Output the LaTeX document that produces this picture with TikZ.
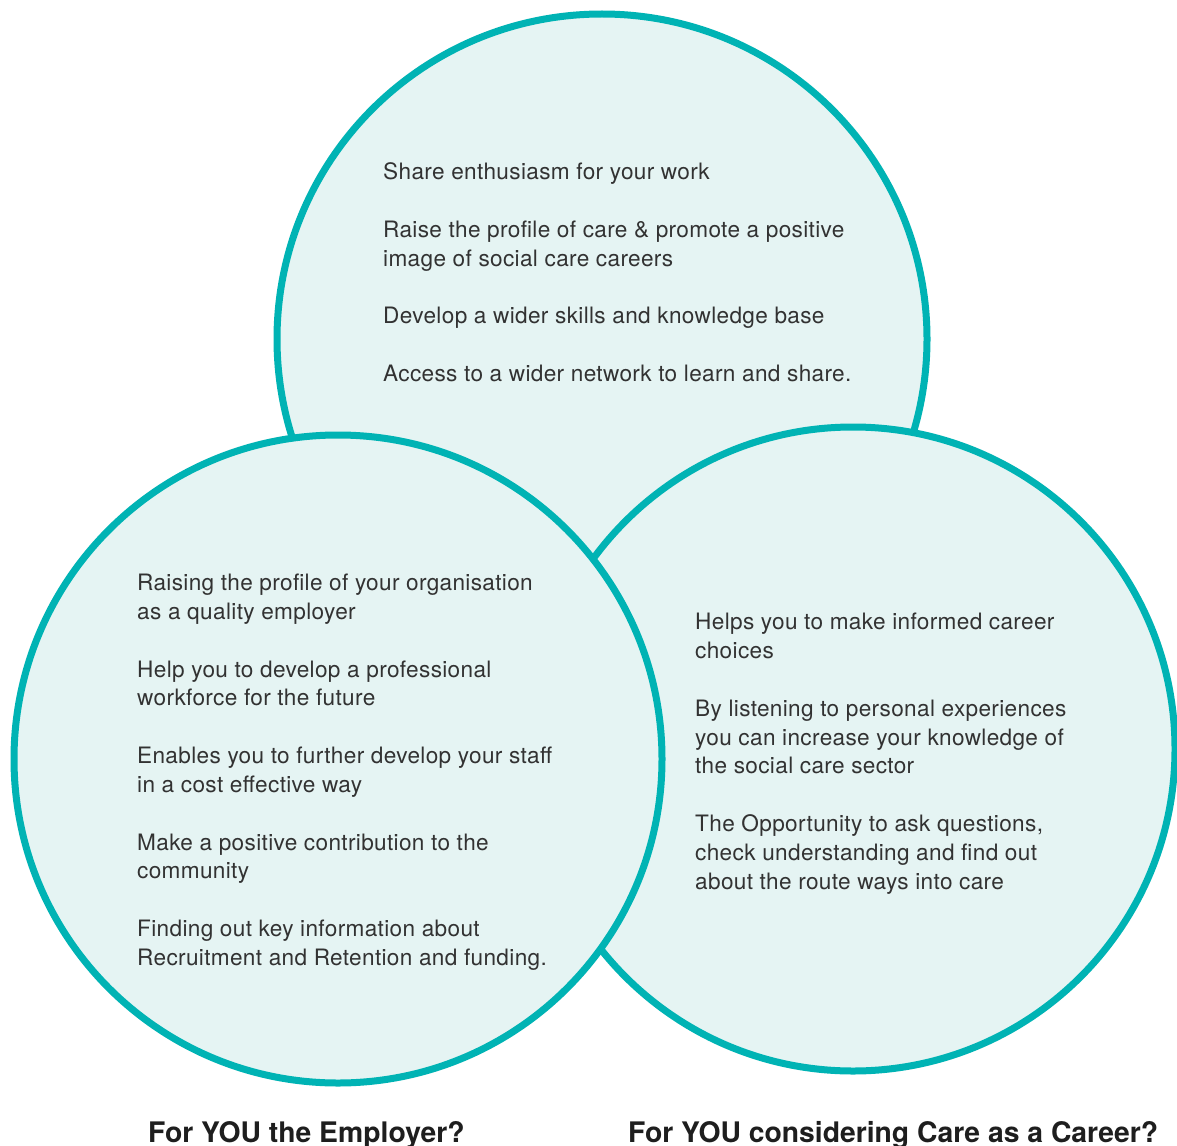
\documentclass[tikz,border=0pt]{standalone}
\usepackage{fontspec}
\setmainfont{TeX Gyre Heros}
\newfontfamily\itemfont[LetterSpace=1.5]{TeX Gyre Heros}
\definecolor{ring}{RGB}{0,179,180}
\definecolor{mint}{RGB}{229,244,243}
\definecolor{ink}{RGB}{50,50,50}
\definecolor{headink}{RGB}{30,30,30}
\begin{document}
\begin{tikzpicture}[x=1pt,y=-1pt,
  bubble/.style={draw=ring,fill=mint,line width=7pt},
  item/.style={anchor=base west,inner sep=0pt,text=ink,font=\itemfont\fontsize{22.6}{29}\selectfont},
  head/.style={anchor=base west,inner sep=0pt,text=headink,font=\fontsize{28.3}{32}\selectfont\bfseries}]
\useasboundingbox (0,0) rectangle (1177,1145);
\fill[white] (0,0) rectangle (1177,1145);
% circles
\draw[bubble] (602,339) circle[radius=325];
\draw[bubble] (853,749) circle[radius=322];
\draw[bubble] (338,759) circle[radius=324];
% top circle text
\node[item] (a1) at (383,179) {Share enthusiasm for your work};
\node[item] (a2) at (383,237) {Raise the profile of care \& promote a positive};
\node[item] (a3) at (383,266) {image of social care careers};
\node[item] (a4) at (383,323) {Develop a wider skills and knowledge base};
\node[item] (a5) at (383,381) {Access to a wider network to learn and share.};
% left circle text
\node[item] (b1) at (137,590) {Raising the profile of your organisation};
\node[item] (b2) at (137,619) {as a quality employer};
\node[item] (b3) at (137,677) {Help you to develop a professional};
\node[item] (b4) at (137,705) {workforce for the future};
\node[item] (b5) at (137,763) {Enables you to further develop your staff};
\node[item] (b6) at (137,792) {in a cost effective way};
\node[item] (b7) at (137,850) {Make a positive contribution to the};
\node[item] (b8) at (137,878) {community};
\node[item] (b9) at (137,936) {Finding out key information about};
\node[item] (b10) at (137,965) {Recruitment and Retention and funding.};
% right circle text
\node[item] (c1) at (695,629) {Helps you to make informed career};
\node[item] (c2) at (695,658) {choices};
\node[item] (c3) at (695,716) {By listening to personal experiences};
\node[item] (c4) at (695,745) {you can increase your knowledge of};
\node[item] (c5) at (695,773) {the social care sector};
\node[item] (c6) at (695,831) {The Opportunity to ask questions,};
\node[item] (c7) at (695,860) {check understanding and find out};
\node[item] (c8) at (695,889) {about the route ways into care};
% bottom headings
\node[head] (h1) at (148,1142) {For YOU the Employer?};
\node[head] (h2) at (628,1142) {For YOU considering Care as a Career?};
\end{tikzpicture}
\end{document}
